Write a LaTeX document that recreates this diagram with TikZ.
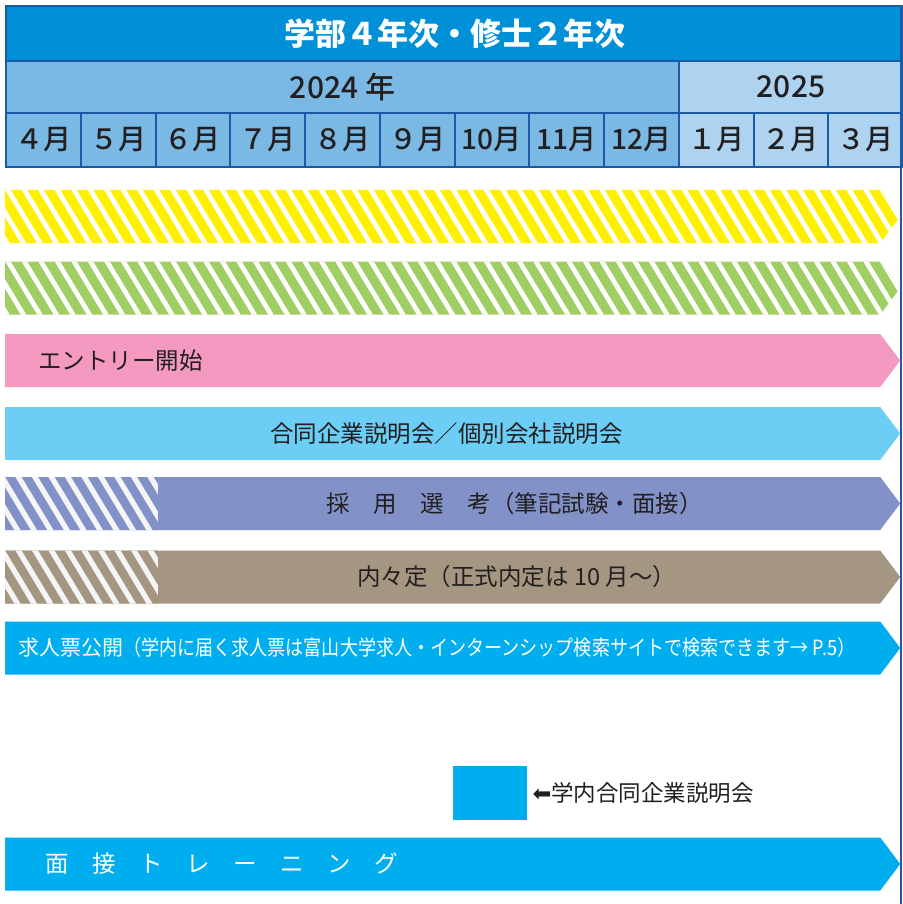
\documentclass[tikz,border=0pt]{standalone}
\usepackage{fontspec}
\usepackage{graphicx}
\setmainfont{Noto Sans CJK JP}
\newfontfamily\symfont{DejaVu Sans}
\IfFontExistsTF{Noto Sans CJK JP Medium}
  {\newfontfamily\medfont{Noto Sans CJK JP Medium}}
  {\newcommand{\medfont}{\normalfont}}
\usepackage{tikz}
\usetikzlibrary{positioning}
\usetikzlibrary{shapes.symbols}

\definecolor{hdrblue}{HTML}{0090D7}
\definecolor{midblue}{HTML}{79B9E4}
\definecolor{paleblue}{HTML}{ADD3F0}
\definecolor{lineblue}{HTML}{1A5AA6}
\definecolor{cyellow}{HTML}{FFF000}
\definecolor{cgreen}{HTML}{A0CE62}
\definecolor{cpink}{HTML}{F49AC1}
\definecolor{clight}{HTML}{6DCEF5}
\definecolor{cpurple}{HTML}{8292C8}
\definecolor{ctaupe}{HTML}{A49680}
\definecolor{cblue}{HTML}{00AEEF}
\definecolor{stripebg}{HTML}{F5F5F5}
\definecolor{ink}{HTML}{231F20}

\newcommand{\fsz}[1]{\fontsize{#1}{#1}\selectfont}

\tikzset{
  cell/.style={draw=lineblue, line width=2pt, inner sep=0pt, anchor=north west, text=ink},
  bar/.style={signal, signal to=east, signal pointer angle=106, minimum width=895pt,
    minimum height=53pt, inner sep=0pt, anchor=west},
  fullstripes/.style={path picture={
    \foreach \k in {-4,...,56}
      \fill[white] ([xshift=\k*16.5pt]path picture bounding box.north west)
        -- ++(5.5pt,0) -- ++(32pt,-53pt) -- ++(-5.5pt,0) -- cycle;}},
  partstripes/.style={path picture={
    \begin{scope}
    \clip (path picture bounding box.north west) rectangle ([xshift=153pt]path picture bounding box.south west);
    \fill[stripebg] (path picture bounding box.north west) rectangle ([xshift=153pt]path picture bounding box.south west);
    \foreach \k in {-3,...,10}
      \fill[#1] ([xshift=\k*16.5pt]path picture bounding box.north west)
        -- ++(10pt,0) -- ++(32pt,-53pt) -- ++(-10pt,0) -- cycle;
    \end{scope}}},
  bartext/.style={inner sep=0pt, text=ink, font=\fsz{23.5}},
  whitetext/.style={inner sep=0pt, text=white, font=\fsz{23.5}},
}

\begin{document}
\begin{tikzpicture}[x=1pt, y=-1pt]
\useasboundingbox (0,0) rectangle (902,904);

% table head
\node[cell, fill=hdrblue, minimum width=897pt, minimum height=55pt, text=white,
  font=\bfseries\fsz{31}] (title) at (5,5) {学部４年次・修士２年次};
\node[cell, fill=midblue, minimum width=673pt, minimum height=52pt,
  font=\medfont\fsz{30}] (y2024) at (5,60) {2024 年};
\node[cell, fill=paleblue, minimum width=224pt, minimum height=52pt,
  font=\medfont\fsz{30}] (y2025) at (678,60) {2025};
\foreach \m [count=\i from 0] in {４,５,６,７,８,９,10,11,12}
  \node[cell, fill=midblue, minimum width=74.75pt, minimum height=54pt,
    font=\medfont\fsz{28}] (m\i) at ({5+74.75*\i},112) {\m 月};
\foreach \m [count=\i from 9] in {１,２,３}
  \node[cell, fill=paleblue, minimum width=74.75pt, minimum height=54pt,
    font=\medfont\fsz{28}] (m\i) at ({5+74.75*\i},112) {\m 月};
\draw[lineblue, line width=1.2pt] (901,5) -- (901,904);

% bars
\node[bar, fill=cyellow, fullstripes] (ybar) at (5,216.5) {};
\node[bar, fill=cgreen, fullstripes] (gbar) at (5,288) {};
\node[bar, fill=cpink] (entry) at (5,360.5) {};
\node[bartext, anchor=west] (entrytext) at ([xshift=33pt]entry.west) {エントリー開始};
\node[bar, fill=clight] (fair) at (5,433.5) {};
\node[bartext] (fairtext) at ([xshift=4pt]fair.center) {合同企業説明会／個別会社説明会};
\node[bar, fill=cpurple, partstripes=cpurple] (select) at (5,503.5) {};
\node[bartext] (selecttext) at ([xshift=72pt]select.center) {採　用　選　考（筆記試験・面接）};
\node[bar, fill=ctaupe, partstripes=ctaupe] (offer) at (5,577) {};
\node[bartext] (offertext) at ([xshift=74pt]offer.center) {内々定（正式内定は 10 月〜）};
\node[bar, fill=cblue] (jobs) at (5,648) {};
\node[whitetext, anchor=west, font=\fsz{21}] (jobstext) at ([xshift=13pt]jobs.west)
  {求人票公開\resizebox{732pt}{\height}{（学内に届く求人票は富山大学求人・インターンシップ検索サイトで検索できます→ P.5）}};

% legend
\node[fill=cblue, minimum width=74pt, minimum height=54pt, inner sep=0pt,
  anchor=north west] (legbox) at (453,766) {};
\node[bartext, font=\fsz{22.5}, right=5pt of legbox] (legtext) {{\symfont ⬅}学内合同企業説明会};

\node[bar, fill=cblue] (training) at (5,864) {};
\node[whitetext, anchor=west] (trainingtext) at ([xshift=40pt]training.west) {面　接　ト　レ　ー　ニ　ン　グ};
\end{tikzpicture}
\end{document}
